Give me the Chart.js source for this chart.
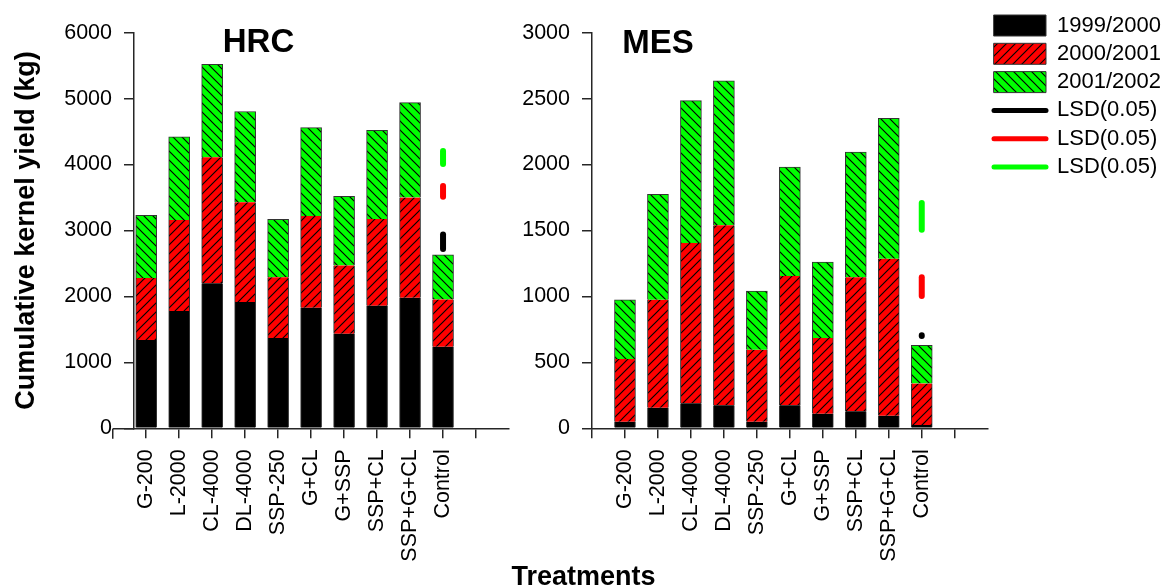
<!DOCTYPE html>
<html>
<head>
<meta charset="utf-8">
<title>Cumulative kernel yield</title>
<script src="https://cdn.jsdelivr.net/npm/chart.js@4/dist/chart.umd.min.js"></script>
<style>
  html, body { margin: 0; padding: 0; background: #fff; }
  #wrap { position: relative; width: 1164px; height: 588px; overflow: hidden; background: #fff; }
  canvas { position: absolute; top: 0; }
  #hrc { left: 0; }
  #mes { left: 510px; }
  #xtitle {
    position: absolute; left: 583.5px; top: 563px; transform: translateX(-50%);
    font: bold 27px/27px "Liberation Sans", Arial, sans-serif; color: #000; white-space: nowrap;
  }
</style>
</head>
<body>
<div id="wrap">
  <canvas id="hrc" width="515" height="588"></canvas>
  <canvas id="mes" width="654" height="588"></canvas>
  <div id="xtitle">Treatments</div>
</div>
<script>
// Treatments on the x axis (positions 1..10)
const categories = ['G-200', 'L-2000', 'CL-4000', 'DL-4000', 'SSP-250', 'G+CL', 'G+SSP', 'SSP+CL', 'SSP+G+CL', 'Control'];
const seasons = ['1999/2000', '2000/2001', '2001/2002'];

// HRC: kernel yield per season (kg), stacked into the cumulative total
const hrc1999 = [1340, 1780, 2200, 1915, 1370, 1830, 1435, 1860, 1980, 1235];
const hrc2000 = [940, 1380, 1910, 1515, 920, 1390, 1035, 1315, 1520, 720];
const hrc2001 = [950, 1260, 1410, 1375, 880, 1340, 1050, 1345, 1440, 675];

// MES: kernel yield per season (kg)
const mes1999 = [50, 155, 190, 175, 50, 175, 110, 130, 95, 25];
const mes2000 = [475, 820, 1215, 1365, 545, 980, 575, 1015, 1190, 315];
const mes2001 = [450, 800, 1080, 1095, 445, 825, 575, 950, 1065, 290];

// LSD(0.05) bars (low, high) drawn beside the Control bar, one per season
const hrcLsd1999 = [2720, 2940];
const hrcLsd2000 = [3510, 3675];
const hrcLsd2001 = [4010, 4205];
const mesLsd1999 = [700, 705];
const mesLsd2000 = [1003, 1145];
const mesLsd2001 = [1506, 1708];

// axis tick values
const xTickValues = [0, 1, 2, 3, 4, 5, 6, 7, 8, 9, 10, 11];
const hrcYStep = 1000, hrcYMax = 6000;
const mesYStep = 500, mesYMax = 3000;

const FONT = '"Liberation Sans", Arial, sans-serif';
const AXIS = '#262626';
Chart.defaults.font.family = FONT;
Chart.defaults.color = '#000';

function hatch(bg, dir) {
  const s = 9;
  const c = document.createElement('canvas');
  c.width = s; c.height = s;
  const g = c.getContext('2d');
  g.fillStyle = bg;
  g.fillRect(0, 0, s, s);
  g.strokeStyle = '#000';
  g.lineWidth = 1.15;
  g.beginPath();
  if (dir === '/') {
    g.moveTo(-1, s + 1); g.lineTo(s + 1, -1);
    g.moveTo(-1, 1); g.lineTo(1, -1);
    g.moveTo(s - 1, s + 1); g.lineTo(s + 1, s - 1);
  } else {
    g.moveTo(-1, -1); g.lineTo(s + 1, s + 1);
    g.moveTo(-1, s - 1); g.lineTo(1, s + 1);
    g.moveTo(s - 1, -1); g.lineTo(s + 1, 1);
  }
  g.stroke();
  return g.createPattern(c, 'repeat');
}

const fillBlack = '#000000';
const fillRed = hatch('#ff0000', '/');
const fillGreen = hatch('#00ff00', '\\');
const lsdColors = ['#000000', '#ff0000', '#00ff00'];
const controlPos = categories.indexOf('Control') + 1;

function points(values) {
  return values.map((v, i) => ({ x: i + 1, y: v }));
}

function buildDatasets(s1, s2, s3, l1, l2, l3) {
  const side = { left: 1, right: 1, top: 0, bottom: 0 };
  const bar = (label, vals, bg, bw) => ({
    type: 'bar', label, data: points(vals), backgroundColor: bg,
    borderColor: '#333', borderWidth: bw, stack: 'yield', order: 2,
    barThickness: 21, xAxisID: 'x', yAxisID: 'y'
  });
  const lsd = (vals, color, key) => ({
    type: 'line', label: 'LSD(0.05)',
    data: [{ x: controlPos, y: vals[0] }, { x: controlPos, y: vals[1] }],
    borderColor: color, backgroundColor: color, borderWidth: 6, borderCapStyle: 'round',
    pointRadius: 0, fill: false, stack: key, order: 1, xAxisID: 'x', yAxisID: 'y'
  });
  return [
    bar(seasons[0], s1, fillBlack, side),
    bar(seasons[1], s2, fillRed, side),
    bar(seasons[2], s3, fillGreen, { left: 1, right: 1, top: 1, bottom: 0 }),
    lsd(l1, lsdColors[0], 'lsd1'),
    lsd(l2, lsdColors[1], 'lsd2'),
    lsd(l3, lsdColors[2], 'lsd3')
  ];
}

// panel heading, plus the stretch of the x axis left of the y axis
const panelDecor = {
  id: 'panelDecor',
  afterDraw(chart, args, opts) {
    const ctx = chart.ctx;
    if (opts.extendBaseline) {
      const x0 = chart.scales.x.getPixelForValue(0);
      let yb = chart.scales.y.getPixelForValue(0);
      yb = Math.round(yb - 0.75) + 0.75;
      const xa = Math.round(x0 - 0.75) + 0.75;
      ctx.save();
      ctx.strokeStyle = AXIS;
      ctx.lineWidth = 1.5;
      ctx.beginPath();
      ctx.moveTo(xa, yb); ctx.lineTo(chart.chartArea.left, yb);
      ctx.moveTo(xa, yb); ctx.lineTo(xa, yb + 10);
      ctx.stroke();
      ctx.restore();
    }
    if (opts.title) {
      ctx.save();
      ctx.font = 'bold 33px ' + FONT;
      ctx.fillStyle = '#000';
      ctx.textAlign = 'center';
      ctx.textBaseline = 'alphabetic';
      ctx.fillText(opts.title, opts.titleX, opts.titleY);
      ctx.restore();
    }
  }
};

function axisGrid() {
  return { display: true, offset: false, drawOnChartArea: false, drawTicks: true, tickLength: 10, color: AXIS, lineWidth: 1.5 };
}
function axisBorder() {
  return { display: true, color: AXIS, width: 1.5 };
}

function xScale(minVal) {
  return {
    type: 'linear', position: 'bottom', min: minVal, max: 12, offset: false,
    afterBuildTicks(s) {
      s.ticks = xTickValues.filter(v => v >= s.min).map(v => ({ value: v }));
    },
    ticks: {
      autoSkip: false, minRotation: 90, maxRotation: 90, padding: 11,
      font: { size: 21.5 }, color: '#000',
      callback: v => categories[v - 1] || ''
    },
    grid: axisGrid(), border: axisBorder(),
    afterFit(s) { s.height = 159.7; s.paddingLeft = 0; s.paddingRight = 0; }
  };
}

function yScale(maxVal, step, width, title) {
  return {
    type: 'linear', position: 'left', min: 0, max: maxVal, stacked: true,
    ticks: { stepSize: step, padding: 12, font: { size: 21.5 }, color: '#000', callback: v => String(v) },
    grid: axisGrid(), border: axisBorder(),
    title: title ? { display: true, text: title, color: '#000', font: { size: 27, weight: 'bold' }, padding: { top: 10, bottom: 0 } } : { display: false },
    afterFit(s) { s.width = width; s.paddingTop = 0; s.paddingBottom = 0; }
  };
}

// HRC panel
new Chart(document.getElementById('hrc'), {
  type: 'bar',
  data: { datasets: buildDatasets(hrc1999, hrc2000, hrc2001, hrcLsd1999, hrcLsd2000, hrcLsd2001) },
  options: {
    responsive: false, animation: false, events: [],
    layout: { padding: { top: 32.7, right: 6, bottom: 0, left: 0 } },
    scales: {
      x: xScale(0.63),
      y: yScale(hrcYMax, hrcYStep, 134, 'Cumulative kernel yield (kg)')
    },
    plugins: {
      legend: { display: false },
      tooltip: { enabled: false },
      panelDecor: { title: 'HRC', titleX: 258.5, titleY: 51.7, extendBaseline: true }
    }
  },
  plugins: [panelDecor]
});

// MES panel with the shared legend
new Chart(document.getElementById('mes'), {
  type: 'bar',
  data: { datasets: buildDatasets(mes1999, mes2000, mes2001, mesLsd1999, mesLsd2000, mesLsd2001) },
  options: {
    responsive: false, animation: false, events: [],
    layout: { padding: { top: 8.2, right: 0, bottom: 0, left: 0 } },
    scales: {
      x: xScale(0),
      x2: {
        type: 'linear', axis: 'x', position: 'top', display: true,
        grid: { display: false }, border: { display: false }, ticks: { display: false },
        afterFit(s) { s.height = 24.5; }
      },
      y: yScale(mesYMax, mesYStep, 82, null)
    },
    plugins: {
      tooltip: { enabled: false },
      legend: {
        display: true, position: 'right', align: 'start', maxWidth: 176.3,
        labels: {
          usePointStyle: true, pointStyleWidth: 52, boxHeight: 21, padding: 6.3,
          font: { size: 22 }, color: '#000',
          generateLabels(chart) {
            return chart.data.datasets.map((ds, i) => {
              const isLine = ds.type === 'line';
              return {
                text: ds.label,
                datasetIndex: i,
                hidden: false,
                pointStyle: isLine ? 'line' : 'rect',
                fillStyle: isLine ? 'rgba(0,0,0,0)' : ds.backgroundColor,
                strokeStyle: isLine ? ds.borderColor : '#333',
                lineWidth: isLine ? 5 : 1,
                lineCap: 'round',
                fontColor: '#000'
              };
            });
          }
        }
      },
      panelDecor: { title: 'MES', titleX: 148, titleY: 53.3, extendBaseline: false }
    }
  },
  plugins: [panelDecor]
});
</script>
</body>
</html>
